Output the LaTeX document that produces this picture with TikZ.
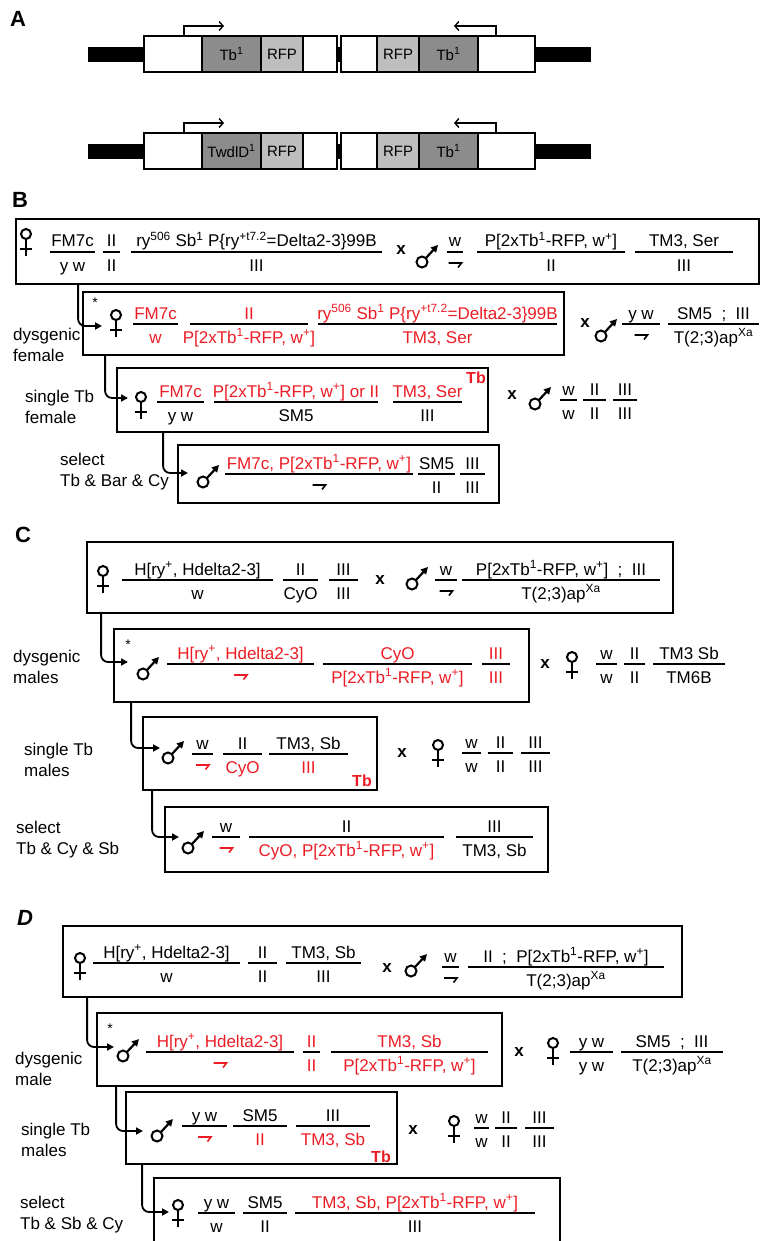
\documentclass[tikz,border=0pt]{standalone}
\usepackage{fontspec}
\setmainfont{Liberation Sans}
\usetikzlibrary{arrows.meta,fit,calc}
\definecolor{gred}{RGB}{236,28,36}
\definecolor{cellA}{RGB}{140,140,140}
\definecolor{cellB}{RGB}{190,190,190}
\newcommand\R{\color{gred}}
\newcommand\sps[1]{\textsuperscript{#1}}
\newcounter{fr}
% genotype fraction: x1, x2, line y, numerator, denominator
\newcommand\gfr[5]{%
  \stepcounter{fr}%
  \draw[fline] (#1,#3) -- (#2,#3);
  \node[gtxt,anchor=base] (fn\thefr) at ({(#1+#2)/2},#3-5) {#4};
  \node[gtxt,anchor=base] (fd\thefr) at ({(#1+#2)/2},#3+19) {#5};
}
% fraction whose lower half is the Y chromosome hook: [colour], x1, x2, line y, numerator
\newcommand\gfy[5][black]{%
  \stepcounter{fr}%
  \draw[fline] (#2,#4) -- (#3,#4);
  \node[gtxt,anchor=base] (fn\thefr) at ({(#2+#3)/2},#4-5) {#5};
  \coordinate (fd\thefr) at ({(#2+#3)/2},#4+11);
  \draw[ych,#1] ([xshift=-6.5pt]fd\thefr) -- ([xshift=6.5pt]fd\thefr) -- ++(-3.5,4.5);
}
\begin{document}
\begin{tikzpicture}[x=1pt,y=-1pt,
  gtxt/.style={inner sep=0pt,font=\fontsize{17}{20}\selectfont},
  fline/.style={line width=1.6pt},
  gbox/.style={draw,line width=1.8pt,inner sep=0pt},
  conn/.style={line width=1.8pt,rounded corners=7pt,-{Triangle[length=7pt,width=7pt]}},
  sym/.style={line width=2pt},
  ych/.style={line width=1.6pt,line join=miter},
  lab/.style={inner sep=0pt,anchor=west,align=left,font=\fontsize{17}{21}\selectfont},
  plab/.style={inner sep=0pt,font=\fontsize{22}{24}\selectfont\bfseries},
  cross/.style={inner sep=0pt,font=\fontsize{17}{20}\selectfont\bfseries},
  ast/.style={inner sep=0pt,font=\fontsize{14}{16}\selectfont},
  tbm/.style={inner sep=0pt,text=gred,font=\fontsize{16}{18}\selectfont\bfseries},
  cell/.style={draw,line width=1.4pt,inner sep=0pt,minimum height=36pt,font=\fontsize{15}{18}\selectfont},
  tss/.style={line width=1.4pt,-{Straight Barb[length=4pt,width=9pt]}},
  fem/.pic={\draw[sym] (0,-7) circle[radius=5]; \draw[sym] (0,-2) -- (0,15) (-6,8) -- (6,8);},
  mal/.pic={\draw[sym] (-5,6) circle[radius=5.5];
            \draw[sym,line width=2.2pt,-{Triangle[length=7pt,width=7pt]}] (-1.2,2.2) -- (11,-11);}
]
\useasboundingbox (0,0) rectangle (761,1241);
\clip (0,0) rectangle (761,1241);

% ---------------- A: constructs ----------------
\node[plab] (pA) at (18,19) {A};
\fill (88,47) rectangle (591,62);
\node[gbox,fill=white,fit={(144,36) (337,72)}] (a1) {};
\node[gbox,fill=white,fit={(341,36) (535,72)}] (a2) {};
\node[cell,fill=cellA,minimum width=59pt] (a1t) at (231.5,54) {Tb\sps{1}};
\node[cell,fill=cellB,minimum width=42pt] (a1r) at (282,54) {RFP};
\node[cell,fill=cellB,minimum width=42pt] (a2r) at (398,54) {RFP};
\node[cell,fill=cellA,minimum width=59pt] (a2t) at (448.5,54) {Tb\sps{1}};
\coordinate (pr1) at (224,26);
\coordinate (pl1) at (454,26);
\draw[tss] ([xshift=41pt]a1.north west) |- (pr1);
\draw[tss] ([xshift=-40pt]a2.north east) |- (pl1);

\fill (88,144) rectangle (591,159);
\node[gbox,fill=white,fit={(144,133) (337,169)}] (a3) {};
\node[gbox,fill=white,fit={(341,133) (535,169)}] (a4) {};
\node[cell,fill=cellA,minimum width=59pt] (a3t) at (231.5,151) {TwdlD\sps{1}};
\node[cell,fill=cellB,minimum width=42pt] (a3r) at (282,151) {RFP};
\node[cell,fill=cellB,minimum width=42pt] (a4r) at (398,151) {RFP};
\node[cell,fill=cellA,minimum width=59pt] (a4t) at (448.5,151) {Tb\sps{1}};
\coordinate (pr2) at (224,123);
\coordinate (pl2) at (454,123);
\draw[tss] ([xshift=41pt]a3.north west) |- (pr2);
\draw[tss] ([xshift=-40pt]a4.north east) |- (pl2);

% ---------------- B ----------------
\node[plab] (pB) at (20,200) {B};
\node[gbox,fit={(16,219) (759,284)}] (b1) {};
\pic at (26,241) {fem};
\gfr{50}{95}{252}{FM7c}{y w}
\gfr{103}{120}{252}{II}{II}
\gfr{131}{382}{252}{ry\sps{506} Sb\sps{1} P\{ry\sps{+t7.2}=Delta2-3\}99B}{III}
\node[cross] (xB1) at (401,250) {x};
\pic at (427,256) {mal};
\gfy{447}{463}{252}{w}
\gfr{477}{625}{252}{P[2xTb\sps{1}-RFP, w\sps{+}]}{II}
\gfr{635}{733}{252}{TM3, Ser}{III}

\coordinate (tB1) at (102,326);
\draw[conn] ([xshift=63pt]b1.south west) |- (tB1);
\node[lab] (lB1) at (13,345) {dysgenic\\female};
\node[gbox,fit={(83,292) (564,355)}] (b2) {};
\node[ast] (sB2) at (95,303) {*};
\pic at (116,322) {fem};
\gfr{133}{178}{324}{\R FM7c}{\R w}
\gfr{190}{308}{324}{\R II}{\R P[2xTb\sps{1}-RFP, w\sps{+}]}
\gfr{318}{557}{324}{\R ry\sps{506} Sb\sps{1} P\{ry\sps{+t7.2}=Delta2-3\}99B}{\R TM3, Ser}
\node[cross] (xB2) at (585,323) {x};
\pic at (606,330) {mal};
\gfy{622}{660}{324}{y w}
\gfr{668}{759}{324}{SM5\ \ ;\ \ III}{T(2;3)ap\sps{Xa}}

\coordinate (tB2) at (128,398);
\draw[conn] ([xshift=23pt]b2.south west) |- (tB2);
\node[lab] (lB2) at (25,407) {single Tb\\female};
\node[gbox,fit={(117,368) (488,432)}] (b3) {};
\pic at (141,404) {fem};
\gfr{157}{204}{402}{\R FM7c}{y w}
\gfr{214}{378}{402}{\R P[2xTb\sps{1}-RFP, w\sps{+}] or II}{SM5}
\gfr{393}{462}{402}{\R TM3, Ser}{III}
\node[tbm] (tbB) at (476,378) {Tb};
\node[cross] (xB3) at (512,395) {x};
\pic at (540,398) {mal};
\gfr{560}{577}{400}{w}{w}
\gfr{583}{606}{400}{II}{II}
\gfr{613}{637}{400}{III}{III}

\coordinate (tB3) at (188,473);
\draw[conn] ([xshift=47pt]b3.south west) |- (tB3);
\node[lab] (lB3) at (60,472) {select\\Tb \& Bar \& Cy};
\node[gbox,fit={(178,445) (499,503)}] (b4) {};
\pic at (208,476) {mal};
\gfy{225}{413}{474}{\R FM7c, P[2xTb\sps{1}-RFP, w\sps{+}]}
\gfr{418}{455}{474}{SM5}{II}
\gfr{460}{485}{474}{III}{III}

% ---------------- C ----------------
\node[plab] (pC) at (23,535) {C};
\node[gbox,fit={(87,542) (673,613)}] (c1) {};
\pic at (103,578) {fem};
\gfr{122}{273}{580}{H[ry\sps{+}, Hdelta2-3]}{w}
\gfr{283}{318}{580}{II}{CyO}
\gfr{329}{358}{580}{III}{III}
\node[cross] (xC1) at (380,580) {x};
\pic at (417,578) {mal};
\gfy{435}{457}{580}{w}
\gfr{462}{660}{580}{P[2xTb\sps{1}-RFP, w\sps{+}]\ \ ;\ \ III}{T(2;3)ap\sps{Xa}}

\coordinate (tC1) at (128,662);
\draw[conn] ([xshift=15pt]c1.south west) |- (tC1);
\node[lab] (lC1) at (13,667) {dysgenic\\males};
\node[gbox,fit={(114,629) (529,702)}] (c2) {};
\node[ast] (sC2) at (128,645) {*};
\pic at (148,668) {mal};
\gfy[gred]{167}{314}{664}{\R H[ry\sps{+}, Hdelta2-3]}
\gfr{323}{472}{664}{\R CyO}{\R P[2xTb\sps{1}-RFP, w\sps{+}]}
\gfr{482}{510}{664}{\R III}{\R III}
\node[cross] (xC2) at (545,664) {x};
\pic at (572,664) {fem};
\gfr{596}{617}{664}{w}{w}
\gfr{624}{645}{664}{II}{II}
\gfr{653}{725}{664}{TM3 Sb}{TM6B}

\coordinate (tC2) at (160,748);
\draw[conn] ([xshift=18pt]c2.south west) |- (tC2);
\node[lab] (lC2) at (24,760) {single Tb\\males};
\node[gbox,fit={(143,717) (377,790)}] (c3) {};
\pic at (173,752) {mal};
\gfy[gred]{192}{213}{754}{w}
\gfr{223}{262}{754}{II}{\R CyO}
\gfr{269}{348}{754}{TM3, Sb}{\R III}
\node[tbm] (tbC) at (362,781) {Tb};
\node[cross] (xC3) at (402,753) {x};
\pic at (438,752) {fem};
\gfr{462}{481}{753}{w}{w}
\gfr{488}{513}{753}{II}{II}
\gfr{521}{550}{753}{III}{III}

\coordinate (tC3) at (179,837);
\draw[conn] ([xshift=10pt]c3.south west) |- (tC3);
\node[lab] (lC3) at (16,840) {select\\Tb \& Cy \& Sb};
\node[gbox,fit={(165,807) (548,872)}] (c4) {};
\pic at (193,842) {mal};
\gfy[gred]{212}{240}{837}{w}
\gfr{249}{444}{837}{II}{\R CyO, P[2xTb\sps{1}-RFP, w\sps{+}]}
\gfr{456}{533}{837}{III}{TM3, Sb}

% ---------------- D ----------------
\node[plab,font=\fontsize{22}{24}\selectfont\bfseries\itshape] (pD) at (25,918) {D};
\node[gbox,fit={(63,926) (682,997)}] (d1) {};
\pic at (80,965) {fem};
\gfr{93}{240}{963}{H[ry\sps{+}, Hdelta2-3]}{w}
\gfr{248}{277}{963}{II}{II}
\gfr{286}{361}{963}{TM3, Sb}{III}
\node[cross] (xD1) at (387,968) {x};
\pic at (416,965) {mal};
\gfy{442}{459}{967}{w}
\gfr{468}{664}{967}{II\ \ ;\ \ P[2xTb\sps{1}-RFP, w\sps{+}]}{T(2;3)ap\sps{Xa}}

\coordinate (tD1) at (114,1047);
\draw[conn] ([xshift=25pt]d1.south west) |- (tD1);
\node[lab] (lD1) at (15,1069) {dysgenic\\male};
\node[gbox,fit={(97,1013) (502,1086)}] (d2) {};
\node[ast] (sD2) at (110,1029) {*};
\pic at (128,1050) {mal};
\gfy[gred]{146}{294}{1052}{\R H[ry\sps{+}, Hdelta2-3]}
\gfr{303}{320}{1052}{\R II}{\R II}
\gfr{331}{488}{1052}{\R TM3, Sb}{\R P[2xTb\sps{1}-RFP, w\sps{+}]}
\node[cross] (xD2) at (519,1052) {x};
\pic at (553,1050) {fem};
\gfr{570}{613}{1052}{y w}{y w}
\gfr{621}{723}{1052}{SM5\ \ ;\ \ III}{T(2;3)ap\sps{Xa}}

\coordinate (tD2) at (143,1131);
\draw[conn] ([xshift=20pt]d2.south west) |- (tD2);
\node[lab] (lD2) at (21,1140) {single Tb\\males};
\node[gbox,fit={(126,1092) (397,1164)}] (d3) {};
\pic at (162,1130) {mal};
\gfy[gred]{182}{227}{1126}{y w}
\gfr{233}{287}{1126}{SM5}{\R II}
\gfr{296}{370}{1126}{III}{\R TM3, Sb}
\node[tbm] (tbD) at (381,1157) {Tb};
\node[cross] (xD3) at (413,1130) {x};
\pic at (454,1128) {fem};
\gfr{474}{489}{1128}{w}{w}
\gfr{495}{517}{1128}{II}{II}
\gfr{525}{554}{1128}{III}{III}

\coordinate (tD3) at (169,1212);
\draw[conn] ([xshift=17pt]d3.south west) |- (tD3);
\node[lab] (lD3) at (20,1215) {select\\Tb \& Sb \& Cy};
\node[gbox,fit={(154,1178) (560,1252)}] (d4) {};
\pic at (178,1212) {fem};
\gfr{198}{235}{1213}{y w}{w}
\gfr{243}{287}{1213}{SM5}{II}
\gfr{295}{535}{1213}{\R TM3, Sb, P[2xTb\sps{1}-RFP, w\sps{+}]}{III}
\end{tikzpicture}
\end{document}
